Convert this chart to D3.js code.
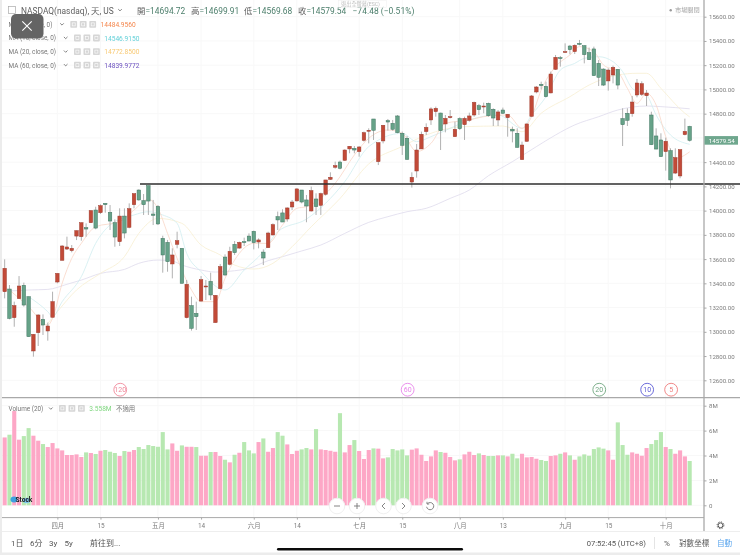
<!DOCTYPE html>
<html><head><meta charset="utf-8">
<script src="https://cdn.jsdelivr.net/npm/d3@7/dist/d3.min.js"></script>
<style>
html,body{margin:0;padding:0;background:#fff;overflow:hidden}
svg{display:block;filter:blur(0.3px)}
text{font-family:Roboto,"Noto Sans CJK TC",sans-serif}
</style></head><body><svg id="c" width="740" height="555"></svg>
<script>
const opens=[13331,13353,13117,13274,13384,13290,12842,12993,13103,13007,
13120,13411,13590,13683,13670,13790,13785,13859,13900,14005,
13983,14060,13986,13900,13744,13955,13862,14049,14170,14082,
14206,13972,14035,13771,13738,13560,13722,13689,13117,13216,
13152,13254,13370,13416,13076,13356,13617,13557,13722,13691,
13744,13790,13829,13741,13658,13694,13799,13950,13981,13931,
14030,14080,14170,14088,13997,14096,14044,14135,14258,14358,
14401,14415,14509,14514,14487,14580,14655,14756,14404,14575,
14742,14720,14781,14638,14597,14236,14327,14509,14652,14748,
14817,14805,14715,14767,14610,14759,14709,14745,14789,14866,
14855,14885,14836,14748,14830,14767,14671,14638,14421,14572,
14778,14979,15042,15025,14971,15166,15262,15306,15358,15312,
15380,15361,15303,15334,15215,15168,15070,15119,15166,14759,
14803,14800,14954,14959,14948,14789,14616,14583,14487,14495,
14310,14286,14627,14694.72];
const closes=[13524,13111,13216,13378,13221,12960,12979,13139,13056,13048,
13249,13482,13708,13700,13689,13835,13900,13848,14000,13856,
14041,14049,13914,13782,13955,13815,14016,14140,14088,14049,
14079,13961,13890,13634,13579,13634,13752,13400,13392,13029,
13125,13430,13378,13304,13301,13538,13469,13664,13653,13738,
13736,13749,13736,13758,13609,13815,13884,13923,13906,14022,
14071,14179,14071,14038,14165,14033,14140,14253,14275,14371,
14349,14500,14531,14500,14525,14643,14663,14663,14561,14704,
14731,14671,14643,14539,14423,14275,14500,14630,14687,14839,
14844,14660,14761,14775,14671,14676,14761,14781,14893,14833,
14863,14783,14764,14814,14803,14795,14657,14522,14541,14715,
14946,15020,15031,14940,15127,15265,15254,15312,15328,15364,
15372,15287,15245,15114,15100,15036,15160,15182,15036,14709,
14745,14896,15053,15047,14970,14544,14508,14445,14572,14253,
14437,14503,14654,14579.54];
const highs=[13598,13386,13249,13460,13406,13290,12982,13144,13144,13076,
13331,13482,13716,13785,13716,13835,13903,13895,14005,14032,
14052,14060,14046,13928,14019,14019,14060,14142,14175,14137,
14206,14088,14046,13793,13758,13689,13826,13689,13428,13290,
13249,13460,13428,13488,13301,13560,13639,13702,13749,13744,
13777,13812,13835,13771,13680,13826,13895,13992,14011,14027,
14088,14184,14170,14129,14198,14143,14148,14253,14316,14404,
14413,14506,14533,14533,14533,14652,14679,14756,14561,14707,
14756,14748,14789,14652,14616,14316,14550,14652,14720,14852,
14858,14808,14789,14830,14734,14770,14775,14808,14899,14880,
14891,14891,14844,14830,14850,14795,14693,14679,14569,14718,
14954,15028,15064,15064,15147,15284,15276,15380,15367,15372,
15408,15364,15345,15353,15243,15174,15174,15196,15168,14844,
14844,14946,15086,15067,14995,14816,14679,14638,14602,14514,
14514,14506,14759,14699.91];
const lows=[13276,13103,13042,13274,13208,12960,12795,12883,12974,12927,
13120,13400,13590,13675,13656,13757,13752,13785,13900,13846,
13972,13983,13840,13702,13708,13771,13854,14019,14082,13964,
13964,13881,13881,13488,13496,13441,13689,13400,13111,13010,
13015,13249,13262,13262,13076,13350,13460,13548,13634,13686,
13708,13749,13680,13689,13551,13694,13796,13840,13906,13909,
14005,14074,14060,13904,13992,13964,13964,14124,14253,14346,
14341,14410,14473,14473,14445,14569,14555,14583,14376,14555,
14660,14660,14638,14459,14418,14190,14272,14509,14624,14707,
14775,14500,14646,14761,14610,14665,14583,14734,14775,14789,
14803,14775,14698,14698,14797,14610,14563,14520,14418,14569,
14775,14968,15001,14935,14968,15160,15188,15303,15290,15292,
15364,15215,15243,15111,15028,15028,14990,15050,15001,14533,
14698,14775,14935,14946,14863,14541,14506,14445,14330,14184,
14302,14267,14621,14569.68];
const volumes=[5.45,5.67,7.57,5.27,5.56,6.2,5.59,5.19,4.92,4.68,
5.0,4.57,4.41,4.04,4.04,4.09,3.88,4.25,4.2,4.12,
4.38,4.44,4.3,4.2,3.96,4.36,4.3,4.44,4.68,4.52,
4.84,4.76,4.7,5.88,4.49,4.97,4.38,4.81,4.7,4.7,
4.68,3.98,3.98,4.28,4.28,3.96,3.66,3.45,4.06,4.22,
5.08,4.41,4.17,5.08,5.37,4.3,4.6,5.88,5.59,4.89,
4.12,4.38,4.49,4.6,4.49,6.12,4.49,4.44,4.38,4.3,
7.4,4.25,4.84,5.24,4.36,3.72,4.44,
4.57,4.55,3.77,3.85,4.52,4.41,4.49,4.01,4.47,4.57,
4.06,3.56,3.93,4.41,4.28,4.22,3.88,3.61,3.69,4.09,
4.3,4.04,4.17,4.04,3.96,3.96,4.01,4.01,3.93,4.14,
3.77,4.14,3.85,3.88,3.74,3.64,3.56,3.96,4.01,4.14,
4.25,4.01,3.66,3.93,4.09,3.98,4.52,4.65,4.55,4.41,
3.66,6.66,4.84,4.06,4.25,4.14,3.98,4.6,4.92,5.24,
5.88,4.68,4.52,4.14,4.41,3.93,3.558];
const volumeSide=("pgppggppgpppppppp"+"gpgpgggpgpp"+"ggggggg"+"ppgppgppgppgpgp"+"gggpgppggpppggpgppppgppgppp"+
"gppgggggppppppgpppgpppgpggpgpggppppggppgpgpggggggppgggppppgggpgpppg").split("");

const ma5Bars=[1,5,9,10,12,14,16,19,24,27,30,32,34,36,39,41,44,46,48,52,55,58,61,63,69,73,76,80,83,86,89,92,97,100,105,108,110,112,115,118,120,123,125,128,130,132,134,136,138,140,143];
const ma5Values=[13345,13207,13056,13111,13400,13606,13730,13867,13909,14005,14093,14019,13812,13606,13345,13249,13249,13441,13592,13730,13730,13881,14019,14033,14225,14459,14597,14665,14638,14487,14555,14720,14748,14775,14789,14679,14775,14995,15188,15284,15353,15311,15202,15147,15009,14885,14968,14871,14610,14430,14485];
const ma10Bars=[5,9,10,12,16,19,22,27,30,33,36,38,41,46,50,54,57,63,71,76,83,86,89,93,97,103,108,110,113,116,119,121,124,127,129,131,134,136,139,143];
const ma10Values=[13290,13166,13125,13249,13455,13730,13881,13964,13991,13964,13895,13647,13496,13345,13510,13661,13826,13930,14239,14528,14638,14569,14610,14679,14748,14789,14679,14789,14940,15160,15215,15256,15270,15229,15147,15009,14954,14789,14624,14547];
const ma20Bars=[9,11,15,20,25,28,32,37,41,45,48,52,56,60,64,70,76,83,88,96,104,108,112,118,122,128,132,134,137,142,143];
const ma20Values=[13070,13166,13345,13482,13620,13812,13936,13895,13716,13634,13551,13518,13565,13702,13867,14100,14385,14530,14624,14693,14698,14651,14803,14940,15036,15119,15133,15133,15009,14803,14773];
const ma60Bars=[1,5,9,13,16,20,25,28,32,35,37,41,44,48,51,55,58,62,66,71,76,80,84,88,93,97,101,106,111,115,119,124,128,134,137,143];
const ma60Values=[13337,13345,13350,13392,13427,13482,13515,13565,13592,13584,13551,13510,13493,13504,13524,13587,13620,13667,13716,13812,13903,13950,13991,14019,14101,14170,14288,14404,14528,14624,14707,14775,14830,14863,14858,14840];

const priceTicks=d3.range(12600,15601,200);
const volumeTicks=[0,2,4,6,8];
const timeBars=[11,20,32,41,52,61,74,83,95,104,117,126,138];
const timeLabels=["四月","15","五月","14","六月","14","七月","15","八月","13","九月","15","十月"];
const markerBars=[24,84,124,134,139];
const markerLabels=["120","60","20","10","5"];
const markerColors=["#f0899b","#e884ea","#6fa67f","#5b5bd6","#ee7a7a"];
const supportLevel=14220;
const lastClose=14579.54;
const hiddenTick=14600;
const legendRows=[["MA (5, close, 0)","14484.9560","#f4874e"],["MA (10, close, 0)","14546.9150","#62d0d8"],["MA (20, close, 0)","14772.8500","#f8c973"],["MA (60, close, 0)","14839.9772","#6b50bf"]];

const svg=d3.select("#c");
const x=d3.scaleLinear().domain([0,143]).range([4.67,689.67]);
const y=d3.scaleLinear().domain([15600,12600]).range([16.7,380.3]);
const yv=d3.scaleLinear().domain([0,8]).range([505.3,405.7]);
const GRID="#f8f8f8",AXIS="#a9a9a9",LAB="#7c7c7c";

// page edges
svg.append("rect").attr("width",740).attr("height",555).attr("fill","#fff");
svg.append("rect").attr("width",2).attr("height",555).attr("fill","#ececec");
svg.append("rect").attr("y",552.5).attr("width",740).attr("height",2.5).attr("fill","#ececec");

// grid
const grid=svg.append("g");
grid.selectAll(".h").data(priceTicks).join("line").attr("x1",2).attr("x2",704).attr("y1",d=>y(d)).attr("y2",d=>y(d)).attr("stroke",GRID);
grid.selectAll(".hv").data(volumeTicks).join("line").attr("x1",2).attr("x2",704).attr("y1",d=>yv(d)).attr("y2",d=>yv(d)).attr("stroke",GRID);
grid.selectAll(".v").data(timeBars).join("line").attr("x1",d=>x(d)).attr("x2",d=>x(d)).attr("y1",0).attr("y2",517).attr("stroke",GRID);

// moving averages
const line=d3.line().x(d=>x(d[0])).y(d=>y(d[1])).curve(d3.curveMonotoneX);
const maSeries=[[ma60Bars,ma60Values,"#dedbec"],[ma20Bars,ma20Values,"#f8efd2"],[ma10Bars,ma10Values,"#d0edf0"],[ma5Bars,ma5Values,"#f9d5c6"]];
svg.append("g").selectAll("path").data(maSeries).join("path")
 .attr("d",d=>line(d[0].map((b,i)=>[b,d[1][i]]))).attr("fill","none").attr("stroke",d=>d[2]).attr("stroke-width",0.8);

// candles
const bars=d3.range(opens.length);
const cg=svg.append("g");
cg.selectAll(".w").data(bars).join("line").attr("x1",d=>x(d)).attr("x2",d=>x(d))
 .attr("y1",d=>y(highs[d])).attr("y2",d=>y(lows[d])).attr("stroke","#a8a8a8").attr("stroke-width",0.9);
cg.selectAll(".b").data(bars).join("rect")
 .attr("x",d=>x(d)-1.75).attr("width",3.5)
 .attr("y",d=>y(Math.max(opens[d],closes[d])))
 .attr("height",d=>Math.max(0.9,y(Math.min(opens[d],closes[d]))-y(Math.max(opens[d],closes[d]))))
 .attr("fill",d=>closes[d]>opens[d]?"#c24a38":"#66a288")
 .attr("stroke",d=>closes[d]>opens[d]?"#9e3a2c":"#3f7560").attr("stroke-width",0.5);

// support line
svg.append("line").attr("x1",140).attr("x2",740).attr("y1",y(supportLevel)).attr("y2",y(supportLevel)).attr("stroke","#2e2e2e").attr("stroke-width",1.5);

// bar markers
const mg=svg.append("g").selectAll("g").data(markerBars).join("g").attr("transform",d=>`translate(${x(d)+0.6},389.7)`);
mg.append("circle").attr("r",6.4).attr("fill","#fff").attr("stroke",(d,i)=>markerColors[i]).attr("stroke-width",0.9);
mg.append("text").attr("text-anchor","middle").attr("y",2.4).attr("font-size",7).attr("fill",(d,i)=>markerColors[i]).text((d,i)=>markerLabels[i]);

// volume
svg.append("g").selectAll("rect").data(bars).join("rect")
 .attr("x",d=>x(d)-2.05).attr("width",4.1).attr("y",d=>yv(volumes[d])).attr("height",d=>yv(0)-yv(volumes[d]))
 .attr("fill",d=>volumeSide[d]==="p"?"#fda7c6":"#b7e8b1");

// axes
const yAxis=d3.axisRight(y).tickValues(priceTicks.filter(d=>d!==hiddenTick)).tickSize(2.5).tickPadding(2.5).tickFormat(d3.format(".2f"));
const ya=svg.append("g").attr("transform","translate(704,0)").call(yAxis);
const vAxis=d3.axisRight(yv).tickValues(volumeTicks).tickSize(2.5).tickPadding(2.5).tickFormat(d=>d===0?"0":d+"M");
const va=svg.append("g").attr("transform","translate(704,0)").call(vAxis);
const tAxis=d3.axisBottom(x).tickValues(timeBars).tickSize(2).tickPadding(3.6).tickFormat((d,i)=>timeLabels[i]);
const ta=svg.append("g").attr("transform","translate(0,517.6)").call(tAxis);
[ya,va,ta].forEach(g=>{g.select(".domain").remove();g.selectAll("line").attr("stroke",AXIS);
 g.selectAll("text").attr("fill",LAB).attr("font-size",6.1);});
ta.selectAll("text").attr("font-size",6.4);

svg.append("line").attr("x1",2).attr("x2",740).attr("y1",397.6).attr("y2",397.6).attr("stroke",AXIS).attr("stroke-width",1.3);
svg.append("line").attr("x1",2).attr("x2",704).attr("y1",517.6).attr("y2",517.6).attr("stroke",AXIS);
svg.append("line").attr("x1",704).attr("x2",704).attr("y1",0).attr("y2",531.5).attr("stroke",AXIS).attr("stroke-width",1.3);
svg.append("line").attr("x1",2).attr("x2",740).attr("y1",531.5).attr("y2",531.5).attr("stroke","#eeeeee");

// last price
svg.append("rect").attr("x",704.5).attr("y",y(lastClose)-4.3).attr("width",33.5).attr("height",8.6).attr("fill","#6fa78e");
svg.append("text").attr("x",708.8).attr("y",y(lastClose)+2.2).attr("font-size",6.2).attr("fill","#fff").text(d3.format(".2f")(lastClose));

// helpers
function t(px,py,s,size,fill,anchor){return svg.append("text").attr("x",px).attr("y",py).attr("font-size",size).attr("fill",fill).attr("text-anchor",anchor||"start").text(s);}
function boxes(px,py){for(let k=0;k<3;k++){
 svg.append("rect").attr("x",px+k*9.5).attr("y",py-3.4).attr("width",6.8).attr("height",6.8).attr("rx",0.8).attr("fill","#d6d6d6");
 svg.append("rect").attr("x",px+k*9.5+1.9).attr("y",py-1.5).attr("width",3).attr("height",3).attr("fill","none").attr("stroke","#fff").attr("stroke-width",0.6);}}
function chev(px,py){svg.append("path").attr("d",`M${px-1.8} ${py-0.9}L${px} ${py+0.9}L${px+1.8} ${py-0.9}`).attr("fill","none").attr("stroke","#666").attr("stroke-width",0.8);}

// header
svg.append("rect").attr("x",8.5).attr("y",6.5).attr("width",7).attr("height",7).attr("fill","none").attr("stroke","#aaa").attr("stroke-width",0.7);
t(21,13.6,"NASDAQ(nasdaq), 天, US",8.4,"#5e5e5e");
chev(120,10);
const G="#4d7f6c",H="#5e5e5e";
[[137,"開"],[191,"高"],[244,"低"],[298,"收"]].forEach(d=>t(d[0],13.6,d[1],8.4,H));
[[145.5,"=14694.72"],[199.5,"=14699.91"],[252.5,"=14569.68"],[306.5,"=14579.54"]].forEach(d=>t(d[0],13.6,d[1],8.4,G));
t(352.5,13.6,"−74.48 (−0.51%)",8.5,G);

// fullscreen hint
svg.append("rect").attr("x",338.5).attr("y",0.5).attr("width",48).attr("height",7).attr("fill","#fff").attr("fill-opacity",0.55).attr("stroke","#f0f0f0").attr("stroke-width",0.5);
t(341,5.6,"退出全螢幕(ESC)",5.2,"#bdbdbd");

// market closed
svg.append("circle").attr("cx",670.7).attr("cy",10.2).attr("r",1.2).attr("fill","#999");
t(675,12.4,"市場關閉",6.2,"#a0a0a0");

// legends
legendRows.forEach((r,i)=>{const py=[24.6,38.2,51.8,65.4][i],sh=i===0?-3.7:0;
 t(8.5,py+2.2,r[0],6.4,"#777");
 chev(65.7+sh,py-0.4);boxes(74+sh,py-0.2);
 t(104.3+sh,py+2.3,r[1],6.6,r[2]);});

// close button overlay
svg.append("rect").attr("x",11).attr("y",14).attr("width",32.5).attr("height",24.5).attr("rx",5).attr("fill","#646464");
svg.append("path").attr("d","M22.3 21.3L31.7 30.7M31.7 21.3L22.3 30.7").attr("stroke","#fff").attr("stroke-width",1.1).attr("fill","none");

// volume legend
t(8.5,410.8,"Volume (20)",6.4,"#777");chev(50.8,408.4);boxes(59,408.4);
t(89.3,410.8,"3.558M",6.6,"#7fd67f");t(116,410.8,"不適用",6.4,"#777");

// logo
svg.append("ellipse").attr("cx",14).attr("cy",499.5).attr("rx",3.5).attr("ry",3).attr("fill","#3f9fe0");
svg.append("ellipse").attr("cx",26.5).attr("cy",500.5).attr("rx",3.5).attr("ry",2.8).attr("fill","#7cc4ea");
t(15.5,501.5,"Stock",6.6,"#222").attr("font-weight",700);

// chart nav buttons
const navs=[[337,"minus"],[357,"plus"],[383.5,"left"],[403.5,"right"],[430,"reset"]];
navs.forEach(n=>{const [cx,k]=n,cy=506;
 svg.append("circle").attr("cx",cx).attr("cy",cy).attr("r",7.8).attr("fill","#fff").attr("stroke","#f0f0f0");
 const d={minus:`M${cx-3} ${cy}H${cx+3}`,plus:`M${cx-3} ${cy}H${cx+3}M${cx} ${cy-3}V${cy+3}`,left:`M${cx+1.5} ${cy-3}L${cx-1.5} ${cy}L${cx+1.5} ${cy+3}`,right:`M${cx-1.5} ${cy-3}L${cx+1.5} ${cy}L${cx-1.5} ${cy+3}`,reset:`M${cx-2.6} ${cy-2.2}A3.6 3.6 0 1 1 ${cx-3.4} ${cy+0.8}M${cx-3} ${cy-4.2}V${cy-2}H${cx-0.8}`}[k];
 svg.append("path").attr("d",d).attr("fill","none").attr("stroke","#777").attr("stroke-width",0.9);
});

// gear
svg.append("circle").attr("cx",720.5).attr("cy",525.3).attr("r",2.4).attr("fill","none").attr("stroke","#555").attr("stroke-width",1);
svg.append("circle").attr("cx",720.5).attr("cy",525.3).attr("r",3.4).attr("fill","none").attr("stroke","#555").attr("stroke-width",1).attr("stroke-dasharray","1.3 1.37");

// bottom toolbar
[[11,"1日"],[30,"6分"],[49,"3y"],[64.5,"5y"],[90,"前往到..."]].forEach(d=>t(d[0],545.6,d[1],8,"#555"));
t(586.7,545.6,"07:52:45 (UTC+8)",7.6,"#555");
svg.append("line").attr("x1",654.5).attr("x2",654.5).attr("y1",537).attr("y2",549).attr("stroke","#e4e4e4");
t(664,545.6,"%",8,"#555");t(679,545.6,"對數坐標",7.6,"#555");t(717,545.6,"自動",7.6,"#5ba6ee");

// home indicator
svg.append("rect").attr("x",277).attr("y",548).attr("width",186).attr("height",2.6).attr("rx",1.3).attr("fill","#0c0c0c");
</script></body></html>
